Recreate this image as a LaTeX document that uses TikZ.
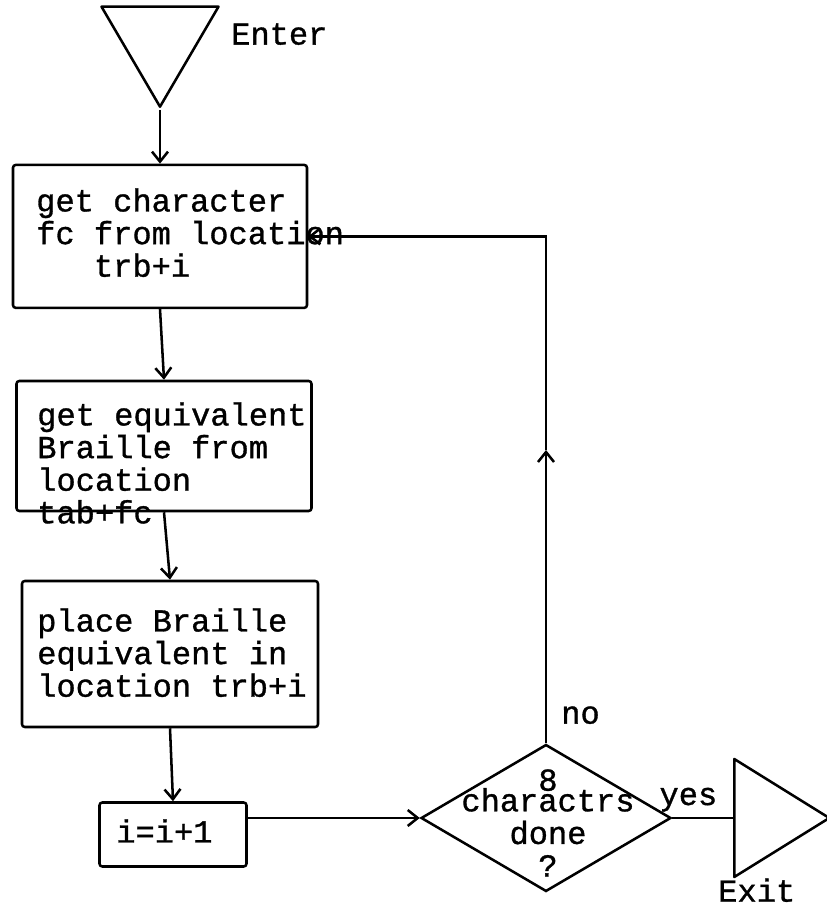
\documentclass[tikz,border=0pt]{standalone}
\usepackage{fontspec}
\setmonofont[FakeBold=1]{Liberation Mono}
\usepackage{tikz}
\usetikzlibrary{arrows.meta,positioning,calc,shapes.geometric}

\begin{document}
\begin{tikzpicture}[
  font=\ttfamily\fontsize{22.8}{23.2}\selectfont,
  line width=1.8pt,
  block/.style={draw,rounded corners=2pt,inner sep=0pt},
  blocktext/.style={anchor=north west,align=left,inner sep=0pt},
  decision/.style={draw,diamond,inner sep=0pt,minimum width=6.25cm,minimum height=3.675cm},
  terminal/.style={draw,isosceles triangle,isosceles triangle stretches,inner sep=0pt,line join=round},
  lbl/.style={inner sep=0pt},
  arrow/.style={-{Straight Barb[length=2.5mm,width=4mm]}}
]
\useasboundingbox (0,0) rectangle (20.675,22.65);

% entry
\node[terminal,shape border rotate=270,minimum width=2.925cm,minimum height=2.5cm,anchor=apex] (enter) at (4.0,19.9) {};
\node[lbl,anchor=north west] (entertxt) at (5.75,22.1) {Enter};

% process blocks
\node[block,minimum width=7.35cm,minimum height=3.575cm] (getchar) at (4.0,16.74) {};
\node[blocktext] (getchartxt) at (0.875,17.975) {get character\\fc from location\\\phantom{xxx}trb+i};

\node[block,minimum width=7.375cm,minimum height=3.25cm] (getbr) at (4.1,11.5) {};
\node[blocktext] (getbrtxt) at (0.9,12.625) {get equivalent\\Braille from\\location\\tab+fc};

\node[block,minimum width=7.4cm,minimum height=3.65cm] (place) at (4.25,6.3) {};
\node[blocktext] (placetxt) at (0.9,7.475) {place Braille\\equivalent in\\location trb+i};

\node[block,minimum width=3.675cm,minimum height=1.6cm] (incr) at (4.325,1.7875) {};
\node[blocktext] (incrtxt) at (2.875,2.2) {i=i+1};

% test and exit
\node[decision] (test) at (13.65,2.2) {};
\node[lbl,align=center,anchor=north] (testtxt) at (13.7,3.45) {8\\[-0.3cm]charactrs\\done\\?};
\node[terminal,shape border rotate=0,minimum width=2.95cm,minimum height=2.375cm,anchor=lower side] (exit) at (18.325,2.2) {};
\node[lbl,anchor=north west] (exittxt) at (17.925,0.72) {Exit};

\node[lbl,anchor=base west] (nolbl) at ([shift={(0.35,0.49)}]test.north) {no};
\node[lbl,anchor=base west] (yeslbl) at ([shift={(-0.35,0.325)}]test.east) {yes};
\coordinate (loopmid) at (13.65,11.4);

\draw[arrow] (enter.apex) -- (getchar.north);
\draw[arrow] (getchar.south) -- (getbr.north);
\draw[arrow] (getbr.south) -- (place.north);
\draw[arrow] (place.south) -- (incr.north);
\draw[arrow] (incr.east |- test.west) -- (test.west);
\draw (test.east) -- (exit.lower side);
\draw[arrow] (test.north) -- (loopmid);
\draw[arrow] (loopmid) |- (getchar.east);
\end{tikzpicture}
\end{document}
